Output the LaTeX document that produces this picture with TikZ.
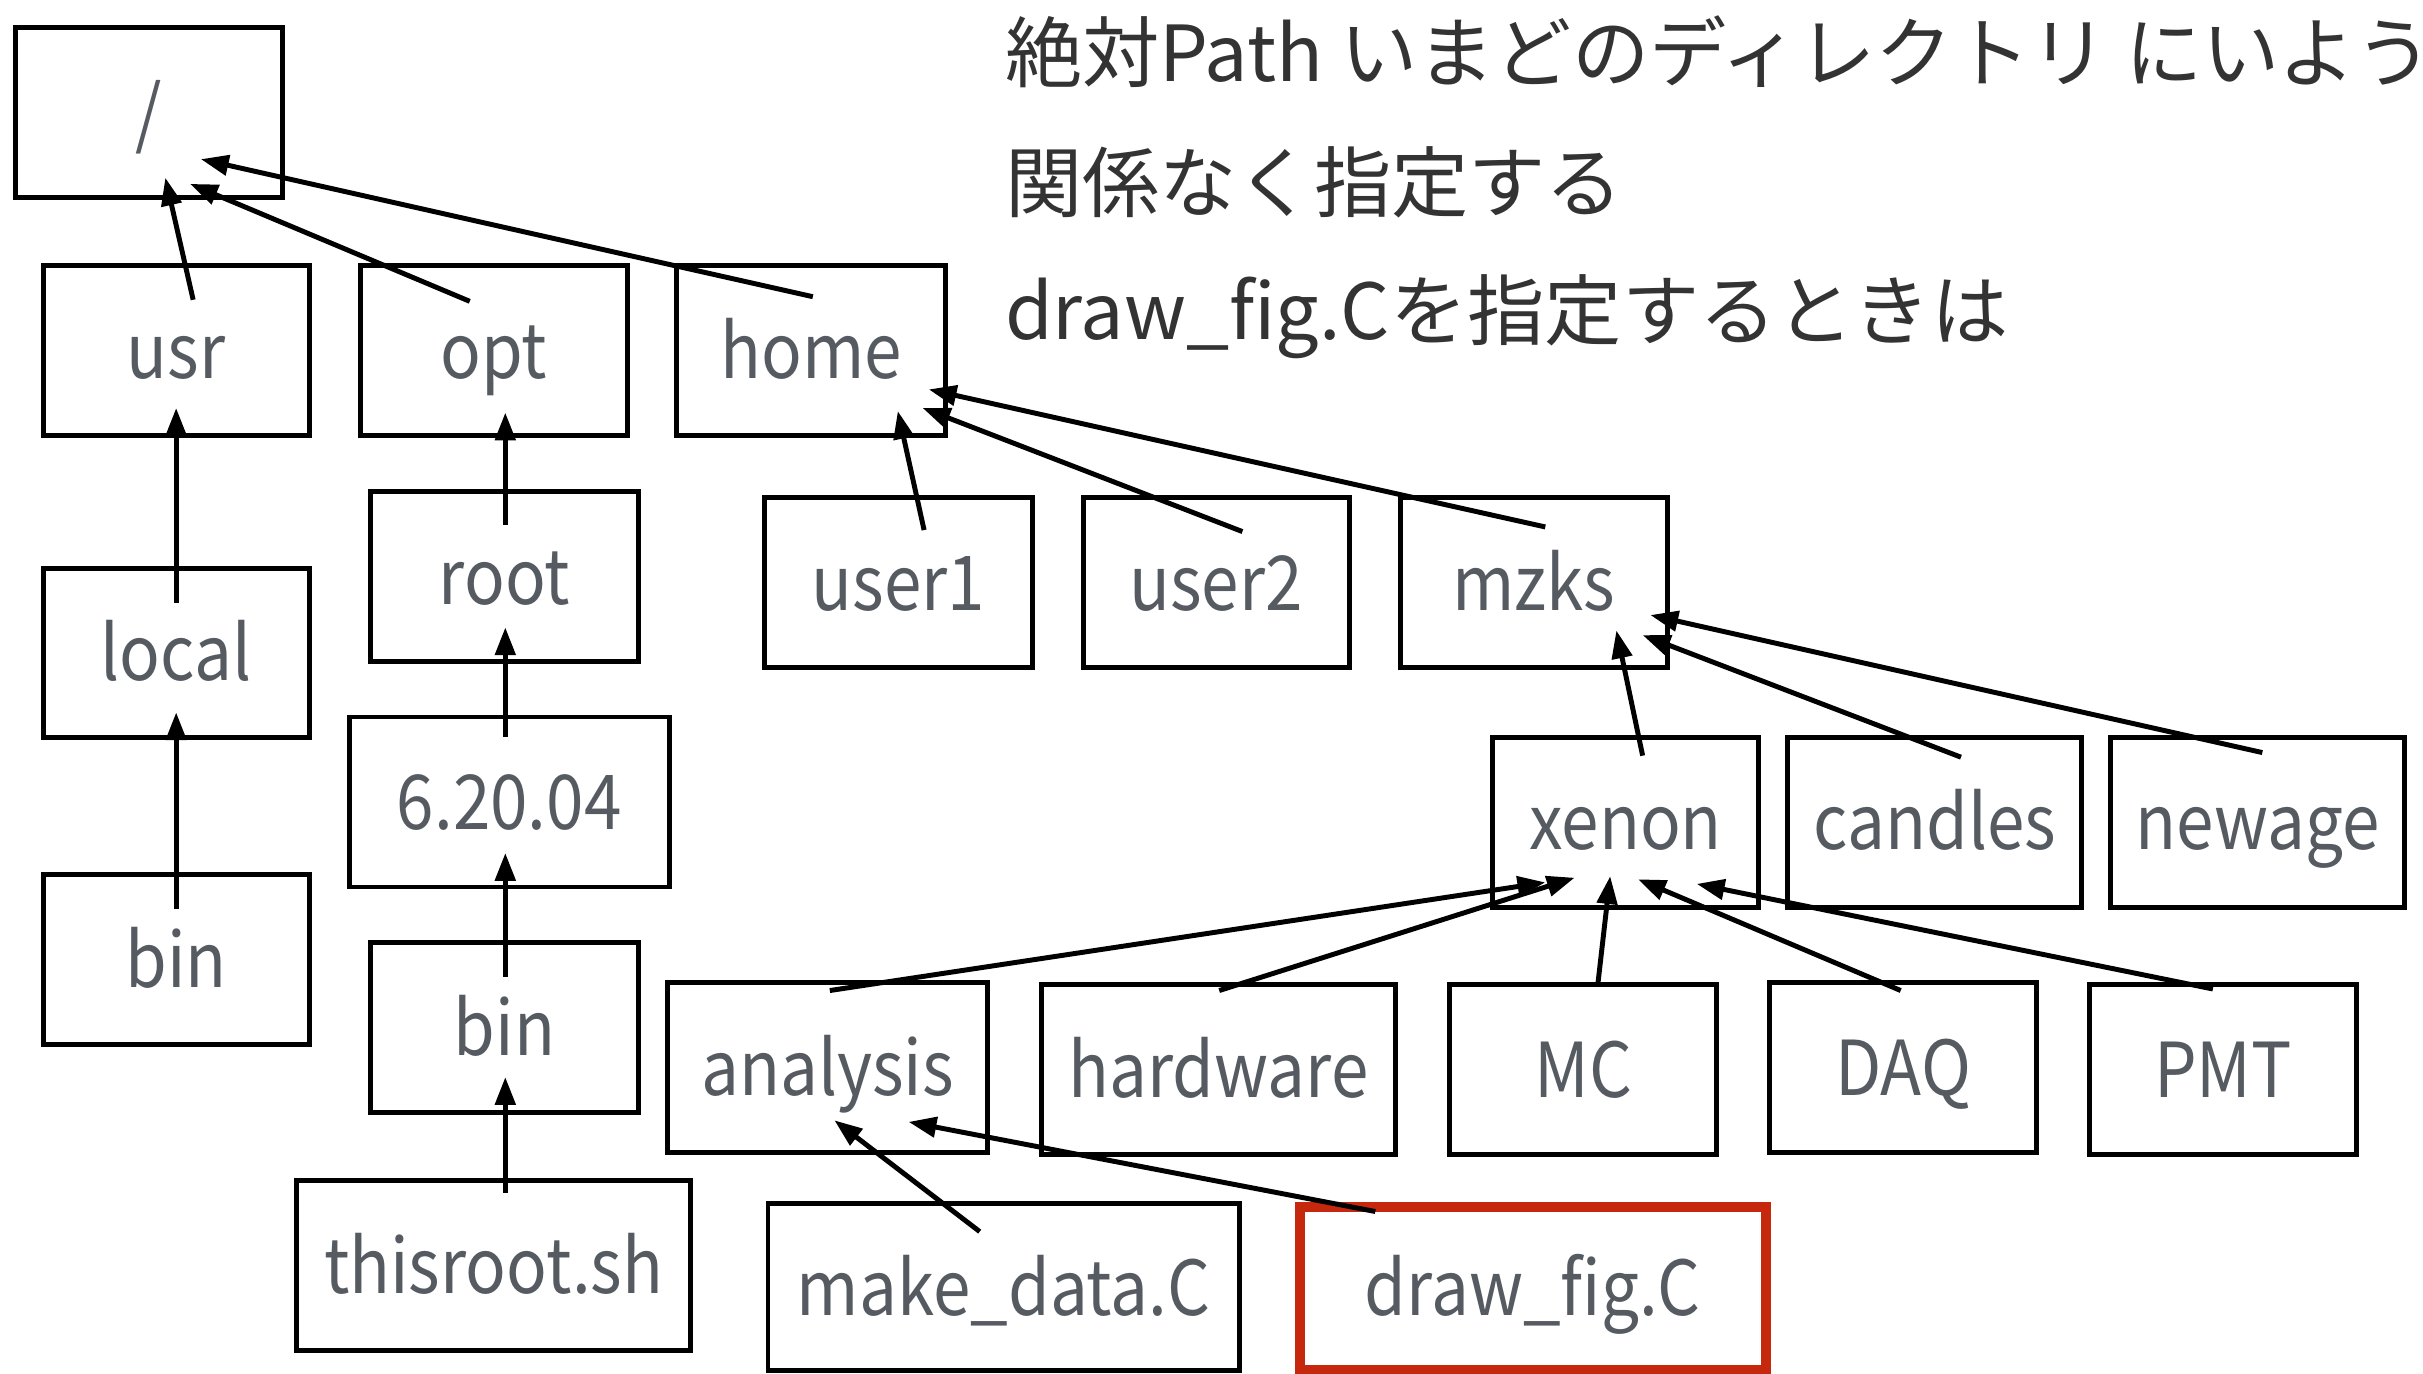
\documentclass[tikz,border=0pt]{standalone}
\usepackage{fontspec}
\setmainfont{Noto Sans CJK JP}
\newfontfamily\dirlabelfont{Noto Sans CJK JP}[FakeStretch=0.89]
\usetikzlibrary{arrows.meta,calc}
\definecolor{labelgray}{HTML}{565B62}
\definecolor{captiondark}{HTML}{333333}
\definecolor{markred}{HTML}{C6280E}
\begin{document}
\begin{tikzpicture}[x=0.5pt,y=-0.5pt,
  dirbox/.style={draw=black,line width=1.6pt,inner sep=0pt,
    font=\dirlabelfont\fontsize{24.5}{28}\selectfont,text=labelgray,
    text height=21pt,text depth=3pt},
  wh/.style 2 args={minimum width=#1*0.5pt,minimum height=#2*0.5pt},
  arr/.style={-{Triangle[length=9pt,width=6.5pt]},line width=1.6pt},
  caption/.style={anchor=base west,inner sep=0pt,
    font=\fontsize{25}{30}\selectfont,text=captiondark}]
\useasboundingbox (0,0) rectangle (1568,889);
\fill[white] (0,0) rectangle (1568,889);

% directory tree
\node[dirbox,wh={173}{110}] (slash)    at (96.5,73)  {/};
\node[dirbox,wh={172}{110}] (usr)      at (114,227)  {usr};
\node[dirbox,wh={173}{110}] (opt)      at (319.5,227) {opt};
\node[dirbox,wh={174}{110}] (home)     at (525,227)  {home};
\node[dirbox,wh={172}{109}] (local)    at (114,422.5) {local};
\node[dirbox,wh={172}{110}] (binL)     at (114,621)  {bin};
\node[dirbox,wh={173}{110}] (rootdir)  at (326.5,373) {root};
\node[dirbox,wh={207}{110}] (ver)      at (329.5,519) {6.20.04};
\node[dirbox,wh={173}{110}] (binM)     at (326.5,665) {bin};
\node[dirbox,wh={255}{110}] (thisroot) at (319.5,819) {thisroot.sh};
\node[dirbox,wh={173}{110}] (user1)    at (581.5,377) {user1};
\node[dirbox,wh={172}{110}] (user2)    at (787,377)  {user2};
\node[dirbox,wh={173}{110}] (mzks)     at (992.5,377) {mzks};
\node[dirbox,wh={172}{110}] (xenon)    at (1052,532) {xenon};
\node[dirbox,wh={190}{110}] (candles)  at (1252,532) {candles};
\node[dirbox,wh={190}{110}] (newage)   at (1461,532) {newage};
\node[dirbox,wh={207}{110}] (analysis) at (535.5,691) {analysis};
\node[dirbox,wh={229}{110}] (hardware) at (788.5,692) {hardware};
\node[dirbox,wh={173}{110}] (MC)       at (1024.5,692) {MC};
\node[dirbox,wh={173}{110}] (DAQ)      at (1231.5,691) {DAQ};
\node[dirbox,wh={173}{110}] (PMT)      at (1438.5,692) {PMT};
\node[dirbox,wh={305}{108}] (makedata) at (649.5,833) {make\_data.C};
\node[dirbox,draw=markred,line width=3pt,wh={301.5}{105}] (drawfig) at (992,833.5) {draw\_fig.C};

% child -> parent links
\draw[arr] ($(usr)+(11,-33)$)      -- ($(slash)+(10.5,42)$);
\draw[arr] ($(opt)+(-15.5,-32)$)   -- ($(slash)+(26.5,46)$);
\draw[arr] ($(home)+(1,-35)$)      -- ($(slash)+(33.5,30)$);
\draw[arr] ($(local)+(0,-32.5)$)   -- ($(usr)+(0,37)$);
\draw[arr] ($(binL)+(0,-33)$)      -- ($(local)+(0,38.5)$);
\draw[arr] ($(rootdir)+(0.5,-33)$) -- ($(opt)+(7.5,40)$);
\draw[arr] ($(ver)+(-2.5,-42)$)    -- ($(rootdir)+(0.5,33)$);
\draw[arr] ($(binM)+(0.5,-33)$)    -- ($(ver)+(-2.5,33)$);
\draw[arr] ($(thisroot)+(7.5,-47)$) -- ($(binM)+(0.5,32)$);
\draw[arr] ($(user1)+(16.5,-34)$)  -- ($(home)+(56,39)$);
\draw[arr] ($(user2)+(17,-33)$)    -- ($(home)+(72,37)$);
\draw[arr] ($(mzks)+(7.5,-36)$)    -- ($(home)+(76,25)$);
\draw[arr] ($(xenon)+(11,-43)$)    -- ($(mzks)+(53.5,31)$);
\draw[arr] ($(candles)+(17,-42)$)  -- ($(mzks)+(70.5,34)$);
\draw[arr] ($(newage)+(3,-45)$)    -- ($(mzks)+(75.5,21)$);
\draw[arr] ($(analysis)+(1.5,-50)$) -- ($(xenon)+(-52,39)$);
\draw[arr] ($(hardware)+(0.5,-51)$) -- ($(xenon)+(-33,36)$);
\draw[arr] ($(MC)+(9.5,-55)$)      -- ($(xenon)+(-10,35)$);
\draw[arr] ($(DAQ)+(-1.5,-50)$)    -- ($(xenon)+(8,37)$);
\draw[arr] ($(PMT)+(-6.5,-52)$)    -- ($(xenon)+(46,40)$);
\draw[arr] ($(makedata)+(-15.5,-36)$) -- ($(analysis)+(4.5,34)$);
\draw[arr] ($(drawfig)+(-102,-49.5)$) -- ($(analysis)+(52.5,35)$);

% explanatory text
\node[caption] (line1) at (650,53)  {絶対Path いまどのディレクトリ にいよう};
\node[caption] (line2) at (650,137) {関係なく指定する};
\node[caption] (line3) at (650,220) {draw\_fig.Cを指定するときは};
\end{tikzpicture}
\end{document}
